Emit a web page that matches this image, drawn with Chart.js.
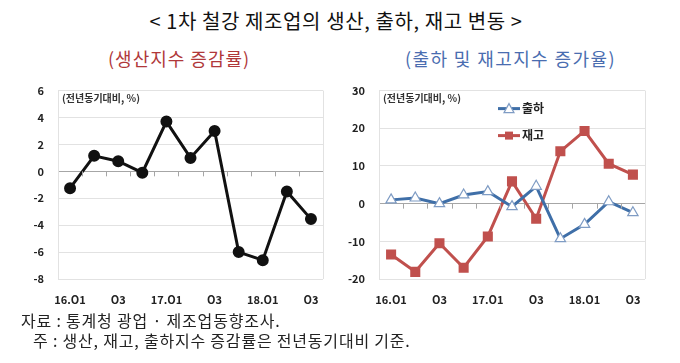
<!DOCTYPE html>
<html>
<head>
<meta charset="utf-8">
<script src="https://cdn.jsdelivr.net/npm/chart.js@4"></script>
<style>
  body { margin: 0; background: #fff; width: 680px; height: 363px; overflow: hidden; position: relative; font-family: "Noto Sans CJK KR", sans-serif; }
  .t { position: absolute; white-space: nowrap; }
  #title { left: -4px; width: 680px; top: 6px; text-align: center; font-size: 20px; letter-spacing: 0.6px; color: #111; }
  #sub1 { left: 108px; top: 45px; font-size: 18px; letter-spacing: 1px; color: #b0383a; }
  #sub2 { left: 405px; top: 45px; font-size: 18px; letter-spacing: 1.4px; color: #4a6db0; }
  #note1 { left: 21px; top: 308px; font-size: 16px; letter-spacing: 0.8px; color: #222; }
  #note2 { left: 33px; top: 328px; font-size: 16px; letter-spacing: 0.8px; color: #222; }
  .box { position: absolute; top: 70px; width: 340px; height: 240px; }
</style>
</head>
<body>
<div class="t" id="title">&lt; 1차 철강 제조업의 생산, 출하, 재고 변동 &gt;</div>
<div class="t" id="sub1">(생산지수 증감률)</div>
<div class="t" id="sub2">(출하 및 재고지수 증가율)</div>
<div class="box" style="left:0"><canvas id="left"></canvas></div>
<div class="box" style="left:340px"><canvas id="right"></canvas></div>
<div class="t" id="note1">자료 : 통계청 광업 · 제조업동향조사.</div>
<div class="t" id="note2">주 : 생산, 재고, 출하지수 증감률은 전년동기대비 기준.</div>
<script>
// quarters 16.Q1 ~ 18.Q3
var quarters = ['16.Q1', 'Q2', 'Q3', 'Q4', '17.Q1', 'Q2', 'Q3', 'Q4', '18.Q1', 'Q2', 'Q3'];
// 생산지수 증감률
var production = [-1.25, 1.15, 0.75, -0.1, 3.7, 1.0, 3.0, -6.0, -6.6, -1.5, -3.55];
// 출하, 재고
var shipment = [1.0, 1.5, 0.0, 2.3, 3.2, -0.8, 4.6, -9.3, -5.5, 0.5, -2.4];
var inventory = [-13.5, -18.1, -10.5, -17.0, -8.7, 5.9, -4.0, 13.9, 19.3, 10.6, 7.7];

var unitText = '(전년동기대비, %)';
var tickFont = { family: '"Noto Sans CJK KR", sans-serif', size: 11, weight: 'bold' };

Chart.defaults.animation = false;

// zero axis tick marks, right border, unit label
var extras = {
  id: 'extras',
  afterDatasetsDraw: function(chart) {
    var c = chart.ctx, a = chart.chartArea, x = chart.scales.x, y = chart.scales.y;
    var y0 = y.getPixelForValue(0);
    c.save();
    c.strokeStyle = '#a6a6a6';
    c.lineWidth = 1;
    for (var i = 1; i < quarters.length; i++) {
      var px = Math.round((x.getPixelForValue(i - 1) + x.getPixelForValue(i)) / 2) + 0.5;
      c.beginPath(); c.moveTo(px, y0); c.lineTo(px, y0 + 5); c.stroke();
    }
    c.strokeStyle = '#e2e2e2';
    c.beginPath(); c.moveTo(a.right + 0.5, a.top); c.lineTo(a.right + 0.5, a.bottom); c.stroke();
    c.fillStyle = '#333';
    c.font = 'bold 10px "Noto Sans CJK KR", sans-serif';
    c.textBaseline = 'middle';
    c.fillText(unitText, a.left + 4, a.top + 8);
    c.restore();
  }
};

// legend drawn inside the right plot
var innerLegend = {
  id: 'innerLegend',
  afterDraw: function(chart) {
    var c = chart.ctx, a = chart.chartArea;
    c.save();
    chart.data.datasets.forEach(function(ds, i) {
      var yy = a.top + 18 + i * 27, x0 = 158, x1 = 180;
      c.strokeStyle = ds.borderColor;
      c.lineWidth = 3;
      c.beginPath(); c.moveTo(x0, yy); c.lineTo(x1, yy); c.stroke();
      var mx = (x0 + x1) / 2;
      if (ds.pointStyle === 'triangle') {
        c.fillStyle = '#fff'; c.strokeStyle = ds.pointBorderColor; c.lineWidth = 1.2;
        c.beginPath(); c.moveTo(mx, yy - 5); c.lineTo(mx + 5, yy + 4); c.lineTo(mx - 5, yy + 4); c.closePath();
        c.fill(); c.stroke();
      } else {
        c.fillStyle = ds.pointBackgroundColor;
        c.fillRect(mx - 4, yy - 4, 8, 8);
      }
      c.fillStyle = '#222';
      c.font = 'bold 12px "Noto Sans CJK KR", sans-serif';
      c.textBaseline = 'middle';
      c.fillText(ds.label, x1 + 2, yy);
    });
    c.restore();
  }
};

function axes(min, max, step, yWidth) {
  return {
    x: {
      offset: true,
      grid: { display: false },
      border: { display: false },
      afterFit: function(s) { s.height = 25; },
      ticks: {
        autoSkip: false, maxRotation: 0, color: '#222', font: tickFont, padding: 6,
        callback: function(v, i) { return i % 2 === 0 ? quarters[i] : ''; }
      }
    },
    y: {
      min: min, max: max,
      afterFit: function(s) { s.width = yWidth; },
      grid: {
        drawTicks: false,
        color: function(ctx) { return ctx.tick.value === 0 ? '#a6a6a6' : '#e2e2e2'; }
      },
      border: { color: '#e2e2e2' },
      ticks: { stepSize: step, color: '#222', font: tickFont, padding: 14 }
    }
  };
}

new Chart(document.getElementById('left'), {
  type: 'line',
  data: {
    labels: quarters,
    datasets: [{
      label: '생산',
      data: production,
      borderColor: '#111',
      backgroundColor: '#111',
      borderWidth: 3,
      pointRadius: 4.5,
      pointBackgroundColor: '#111',
      tension: 0
    }]
  },
  options: {
    responsive: true,
    maintainAspectRatio: false,
    layout: { padding: { left: 0, right: 17, top: 0, bottom: 6 } },
    plugins: { legend: { display: false }, tooltip: { enabled: false } },
    scales: axes(-8, 6, 2, 58)
  },
  plugins: [extras]
});

new Chart(document.getElementById('right'), {
  type: 'line',
  data: {
    labels: quarters,
    datasets: [{
      label: '출하',
      data: shipment,
      borderColor: '#3f6fa8',
      borderWidth: 3,
      pointStyle: 'triangle',
      pointRadius: 6,
      pointBackgroundColor: '#fff',
      pointBorderColor: '#7f9cc4',
      pointBorderWidth: 1.2,
      tension: 0
    }, {
      label: '재고',
      data: inventory,
      borderColor: '#c0504d',
      borderWidth: 3,
      pointStyle: 'rect',
      pointRadius: 5,
      pointBackgroundColor: '#c0504d',
      pointBorderColor: '#c0504d',
      tension: 0
    }]
  },
  options: {
    responsive: true,
    maintainAspectRatio: false,
    layout: { padding: { left: 0, right: 35, top: 0, bottom: 6 } },
    plugins: { legend: { display: false }, tooltip: { enabled: false } },
    scales: axes(-20, 30, 10, 39)
  },
  plugins: [extras, innerLegend]
});
</script>
</body>
</html>
